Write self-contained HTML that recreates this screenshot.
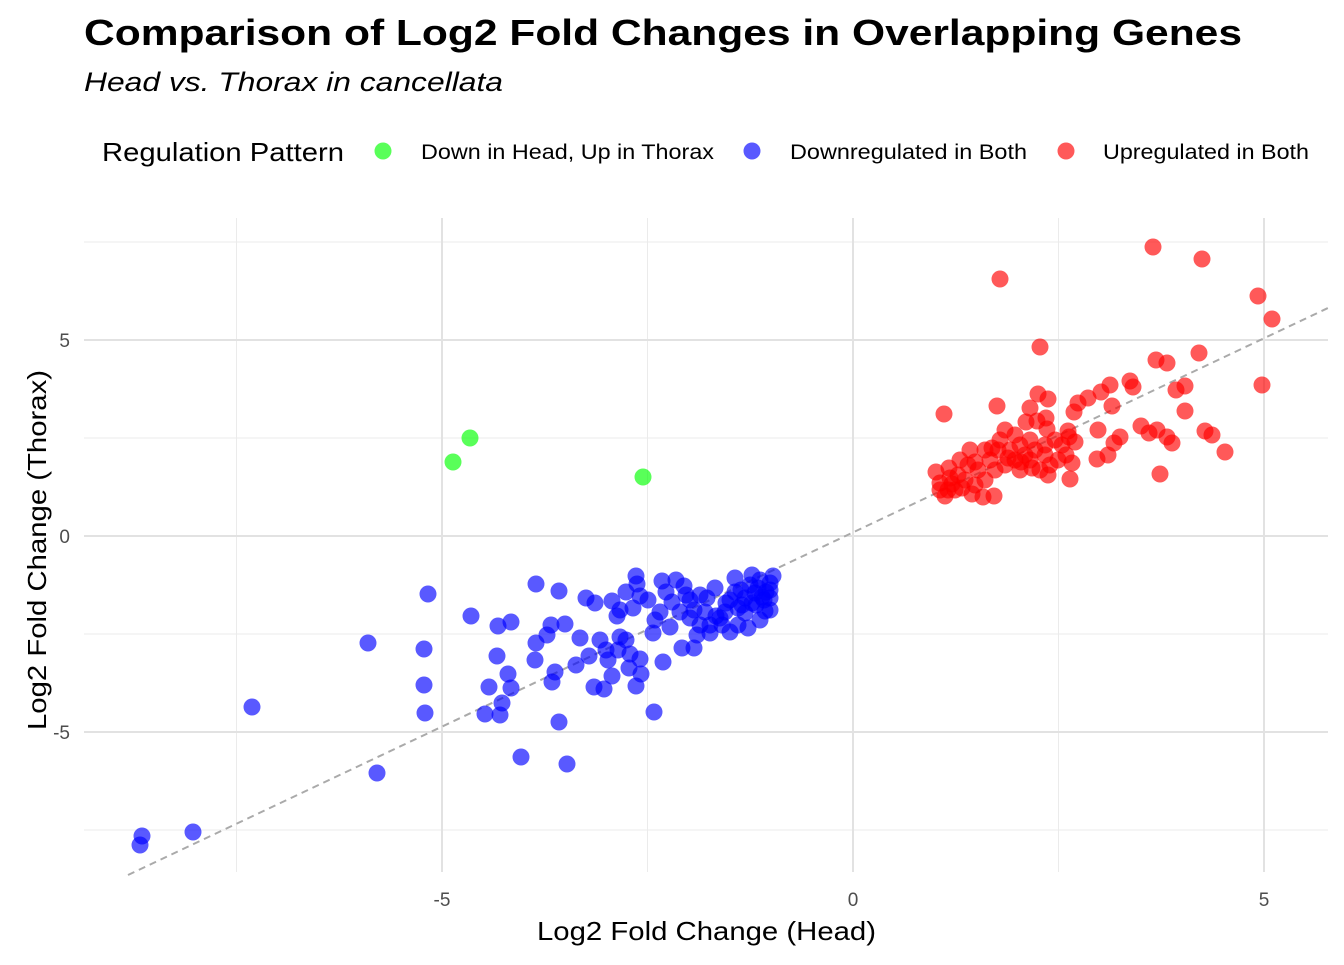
<!DOCTYPE html>
<html><head><meta charset="utf-8"><style>
body{margin:0;background:#fff;}
svg text{font-family:"Liberation Sans",Arial,sans-serif;}
</style></head><body>
<svg id="s" width="1344" height="960" xmlns="http://www.w3.org/2000/svg">
<rect width="1344" height="960" fill="#fff"/>
<text x="84" y="45" font-size="36" font-weight="bold" fill="#000" textLength="1158" lengthAdjust="spacingAndGlyphs">Comparison of Log2 Fold Changes in Overlapping Genes</text>
<text x="84" y="91" font-size="27" font-style="italic" fill="#000" textLength="419" lengthAdjust="spacingAndGlyphs">Head vs. Thorax in cancellata</text>
<text x="102" y="161" font-size="26" fill="#000" textLength="242" lengthAdjust="spacingAndGlyphs">Regulation Pattern</text>
<circle cx="383" cy="151" r="8.5" fill="#00ff00" fill-opacity="0.65"/>
<text x="421" y="159" font-size="21" fill="#000" textLength="293" lengthAdjust="spacingAndGlyphs">Down in Head, Up in Thorax</text>
<circle cx="752" cy="151" r="8.5" fill="#0000ff" fill-opacity="0.65"/>
<text x="790" y="159" font-size="21" fill="#000" textLength="237" lengthAdjust="spacingAndGlyphs">Downregulated in Both</text>
<circle cx="1066" cy="151" r="8.5" fill="#ff0000" fill-opacity="0.65"/>
<text x="1103" y="159" font-size="21" fill="#000" textLength="206" lengthAdjust="spacingAndGlyphs">Upregulated in Both</text>
<g stroke="#ebebeb" stroke-width="1">
<line x1="84" x2="1328" y1="242" y2="242"/><line x1="84" x2="1328" y1="438" y2="438"/>
<line x1="84" x2="1328" y1="634" y2="634"/><line x1="84" x2="1328" y1="830" y2="830"/>
<line y1="218" y2="872" x1="236.5" x2="236.5"/><line y1="218" y2="872" x1="647.5" x2="647.5"/><line y1="218" y2="872" x1="1058.5" x2="1058.5"/>
</g>
<g stroke="#e2e2e2" stroke-width="2">
<line x1="84" x2="1328" y1="340" y2="340"/><line x1="84" x2="1328" y1="536" y2="536"/><line x1="84" x2="1328" y1="732" y2="732"/>
<line y1="218" y2="872" x1="442" x2="442"/><line y1="218" y2="872" x1="853" x2="853"/><line y1="218" y2="872" x1="1264" x2="1264"/>
</g>
<line x1="128" y1="875" x2="1328" y2="308" stroke="#aaaaaa" stroke-width="2" stroke-dasharray="7,5"/>
<g font-size="19" fill="#4d4d4d" text-anchor="end">
<text x="70" y="347">5</text><text x="70" y="543">0</text><text x="70" y="739">-5</text>
</g>
<g font-size="19" fill="#4d4d4d" text-anchor="middle">
<text x="442" y="906">-5</text><text x="853" y="906">0</text><text x="1264" y="906">5</text>
</g>
<text x="537" y="940" font-size="26" fill="#000" textLength="339" lengthAdjust="spacingAndGlyphs">Log2 Fold Change (Head)</text>
<text transform="translate(46,730) rotate(-90)" font-size="26" fill="#000" textLength="360" lengthAdjust="spacingAndGlyphs">Log2 Fold Change (Thorax)</text>
<g id="pts"></g>
</svg>
<script>
var blue=[[140,845],[142,836],[193,832],[252,707],[368,643],[377,773],[424,649],[424,685],[425,713],[428,594],[471,616],[498,626],[511,622],[497,656],[508,674],[511,688],[489,687],[485,714],[500,715],[502,703],[521,757],[567,764],[559,722],[536,584],[559,591],[547,635],[536,643],[565,624],[551,625],[535,660],[552,682],[555,672],[576,665],[580,638],[586,598],[595,603],[589,656],[594,687],[604,689],[608,660],[612,676],[620,637],[617,616],[612,601],[626,592],[633,608],[637,584],[636,576],[606,650],[630,654],[629,668],[640,659],[636,686],[641,674],[654,712],[663,662],[653,633],[662,581],[666,592],[676,580],[684,586],[690,600],[672,602],[680,612],[670,627],[694,610],[700,625],[682,648],[694,648],[710,633],[697,635],[716,616],[726,603],[707,598],[715,588],[735,578],[741,590],[730,600],[755,593],[752,575],[760,580],[770,583],[773,576],[765,611],[756,605],[745,613],[738,625],[720,618],[710,625],[730,632],[748,628],[760,620],[770,598],[762,597],[770,610],[750,585],[758,588],[766,592],[745,598],[752,603],[738,608],[725,612],[705,612],[690,618],[660,612],[648,600],[640,596],[620,610],[600,640],[618,650],[626,640],[770,590],[764,600],[742,605],[735,592],[722,625],[700,595],[686,595],[655,620]];
var green=[[453,462],[470,438],[643,477]];
var red=[[1000,279],[1153,247],[1202,259],[1258,296],[1272,319],[1040,347],[1262,385],[1199,353],[1156,360],[1167,363],[1130,381],[1133,387],[1110,385],[1185,386],[1176,390],[1185,411],[1101,392],[1112,406],[1088,398],[1078,403],[1074,412],[1048,399],[1038,394],[1030,408],[1026,422],[1037,421],[1046,418],[997,406],[944,414],[1141,426],[1157,430],[1205,431],[1212,435],[1167,437],[1172,443],[1225,452],[1149,433],[1120,437],[1114,443],[1098,430],[1069,437],[1068,431],[1075,442],[1066,455],[1072,463],[1058,460],[1070,479],[1097,459],[1108,455],[1160,474],[994,496],[983,497],[972,494],[945,496],[948,490],[936,472],[940,483],[949,468],[960,460],[970,450],[985,450],[998,450],[1005,430],[1015,435],[1020,445],[1030,440],[1045,445],[1045,455],[1050,465],[1040,470],[1030,460],[1020,470],[1015,460],[1005,465],[995,470],[985,480],[975,485],[965,480],[958,475],[950,478],[990,460],[1010,450],[1025,455],[1035,450],[1055,440],[1062,445],[978,470],[968,465],[955,490],[962,488],[1000,440],[1047,429],[1021,462],[1032,468],[1048,475],[940,490],[952,484],[975,462],[992,448],[1008,458]];
var g=document.getElementById('pts'),h='';
function add(a,c){a.forEach(function(p){h+='<circle cx="'+p[0]+'" cy="'+p[1]+'" r="8.5" fill="'+c+'" fill-opacity="0.65"/>';});}
add(green,'#00ff00');add(blue,'#0000ff');add(red,'#ff0000');
g.innerHTML=h;
</script>
</body></html>
